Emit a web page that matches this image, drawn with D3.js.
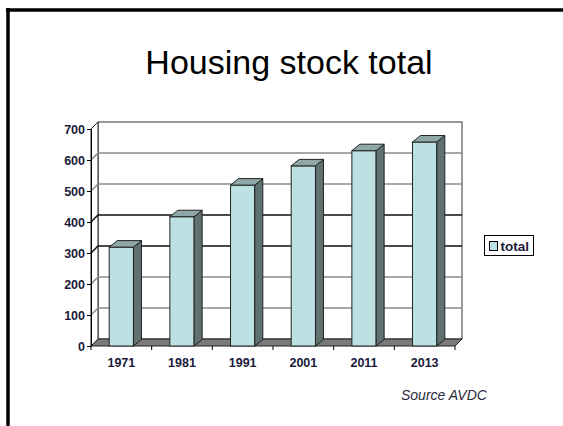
<!DOCTYPE html>
<html lang="en">
<head>
    <meta charset="UTF-8">
    <title>Housing stock total</title>
    <script src="https://cdn.jsdelivr.net/npm/d3@7/dist/d3.min.js"></script>
    <style>
        body { margin: 0; background: #fff; }
        svg { display: block; font-family: Arial, "Liberation Sans", sans-serif; }
        .ylab text, .xlab text { font-size: 12.5px; font-weight: bold; fill: #1a1a3a; }
    </style>
</head>
<body>
<script>
    // data
    const years = ['1971', '1981', '1991', '2001', '2011', '2013'];
    const totals = [319, 417, 519, 581, 630, 658];
    const yTicks = [0, 100, 200, 300, 400, 500, 600, 700];

    const width = 563;
    const height = 426;

    // 3d depth of the walls and bars
    const wallDx = 7, wallDy = -7;
    const barDx = 8, barDy = -6.5;

    const svg = d3.select('body')
        .append('svg')
        .attr('width', width)
        .attr('height', height);

    // frame of the slide
    svg.append('line').attr('x1', 8).attr('y1', 8).attr('x2', 8).attr('y2', height)
        .attr('stroke', '#000').attr('stroke-width', 3.5);
    svg.append('line').attr('x1', 6).attr('y1', 10).attr('x2', width).attr('y2', 10)
        .attr('stroke', '#000').attr('stroke-width', 3.5);

    svg.append('text')
        .attr('x', 289)
        .attr('y', 74)
        .attr('text-anchor', 'middle')
        .style('font-size', '34px')
        .text('Housing stock total');

    const x = d3.scaleBand().domain(years).range([91, 455]);
    const y = d3.scaleLinear().domain([0, 700]).range([346, 129]);

    const x0 = x.range()[0], x1 = x.range()[1];
    const yTop = y(700), yBot = y(0);

    // back wall + left wall
    svg.append('rect')
        .attr('x', x0 + wallDx).attr('y', yTop + wallDy)
        .attr('width', x1 - x0).attr('height', yBot - yTop)
        .attr('fill', '#fff').attr('stroke', '#333').attr('stroke-width', 1);
    svg.append('path')
        .attr('d', `M${x0},${yBot} L${x0},${yTop} L${x0 + wallDx},${yTop + wallDy} L${x0 + wallDx},${yBot + wallDy}`)
        .attr('fill', '#fff').attr('stroke', '#222').attr('stroke-width', 1);

    // grid lines on the walls
    const grid = svg.append('g');
    yTicks.filter(v => v > 0 && v < 700).forEach(v => {
        const col = (v === 300 || v === 400) ? '#111' : '#8c8c8c';
        grid.append('path')
            .attr('d', `M${x0},${y(v)} L${x0 + wallDx},${y(v) + wallDy} L${x1 + wallDx},${y(v) + wallDy}`)
            .attr('fill', 'none').attr('stroke', col).attr('stroke-width', 1.5);
    });

    // floor
    svg.append('path')
        .attr('d', `M${x0},${yBot} L${x0 + wallDx},${yBot + wallDy} L${x1 + wallDx},${yBot + wallDy} L${x1},${yBot} Z`)
        .attr('fill', '#7a7a7a').attr('stroke', '#222').attr('stroke-width', 1);

    // y axis
    svg.append('g')
        .attr('class', 'ylab')
        .attr('transform', `translate(${x0},0)`)
        .call(d3.axisLeft(y).tickValues(yTicks).tickSize(4).tickSizeOuter(0).tickPadding(2))
        .call(g => g.selectAll('line, path').attr('stroke', '#000'));

    // x ticks at category boundaries
    svg.append('g').selectAll('line')
        .data(years.concat(['end']))
        .join('line')
        .attr('x1', (d, i) => x0 + i * x.bandwidth())
        .attr('x2', (d, i) => x0 + i * x.bandwidth())
        .attr('y1', yBot).attr('y2', yBot + 4)
        .attr('stroke', '#000');

    svg.append('g')
        .attr('class', 'xlab')
        .attr('transform', `translate(0,${yBot})`)
        .call(d3.axisBottom(x).tickSize(0).tickPadding(12))
        .call(g => g.select('.domain').remove());

    // bars
    const bw = x.bandwidth() * 0.4;
    const bars = svg.append('g').selectAll('g')
        .data(years.map((d, i) => ({ year: d, value: totals[i] })))
        .join('g');

    bars.append('rect')
        .attr('x', d => x(d.year) + (x.bandwidth() - bw) / 2)
        .attr('y', d => y(d.value))
        .attr('width', bw)
        .attr('height', d => yBot - y(d.value))
        .attr('fill', '#bde1e3').attr('stroke', '#222').attr('stroke-width', 1);

    bars.append('path')
        .attr('d', d => {
            const r = x(d.year) + (x.bandwidth() + bw) / 2;
            const t = y(d.value);
            return `M${r},${yBot} L${r},${t} L${r + barDx},${t + barDy} L${r + barDx},${yBot + barDy} Z`;
        })
        .attr('fill', '#5f7170').attr('stroke', '#222').attr('stroke-width', 1);

    bars.append('path')
        .attr('d', d => {
            const l = x(d.year) + (x.bandwidth() - bw) / 2;
            const t = y(d.value);
            return `M${l},${t} L${l + barDx},${t + barDy} L${l + bw + barDx},${t + barDy} L${l + bw},${t} Z`;
        })
        .attr('fill', '#8fa7a6').attr('stroke', '#222').attr('stroke-width', 1);

    // legend
    const legend = svg.append('g');
    legend.append('rect')
        .attr('x', 484.5).attr('y', 235.5).attr('width', 49).attr('height', 20)
        .attr('fill', '#fff').attr('stroke', '#000');
    legend.append('rect')
        .attr('x', 489.5).attr('y', 241.5).attr('width', 8).attr('height', 9)
        .attr('fill', '#bde1e3').attr('stroke', '#000');
    legend.append('text')
        .attr('x', 500.5).attr('y', 251)
        .style('font-size', '13.5px').style('font-weight', 'bold').attr('fill', '#1a1a3a')
        .text('total');

    svg.append('text')
        .attr('x', 401).attr('y', 400)
        .style('font-size', '14px').style('font-style', 'italic').attr('fill', '#2a2a3a')
        .text('Source AVDC');
</script>
</body>
</html>
